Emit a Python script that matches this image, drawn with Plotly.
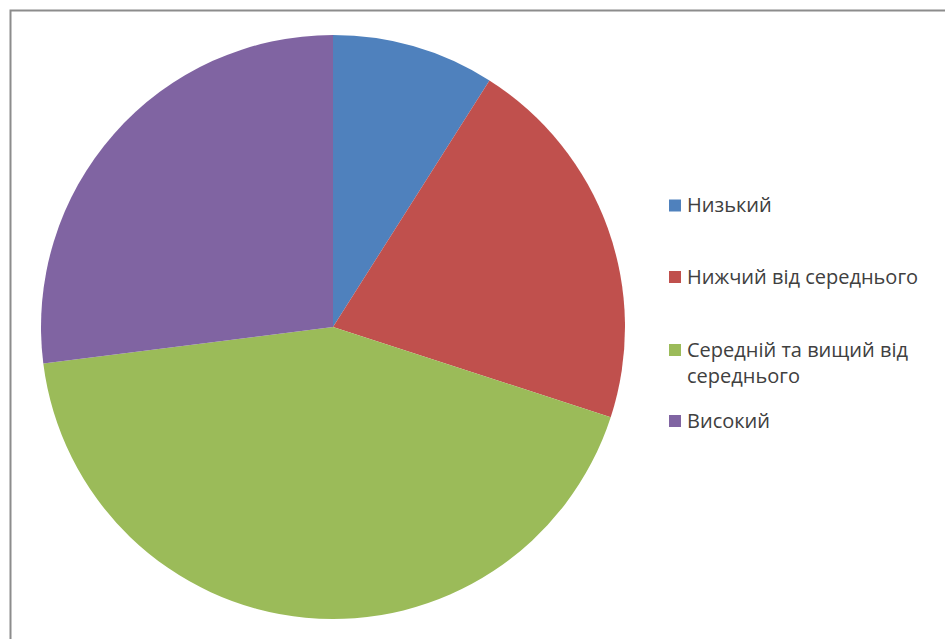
import plotly.graph_objects as go

# Shares of respondents by level
labels = ["Низький", "Нижчий від середнього", "Середній та вищий від середнього", "Високий"]
legend_text = ["Низький", "Нижчий від середнього", "Середній та вищий від<br>середнього", "Високий"]
values = [9, 21, 43, 27]
colors = ["#4F81BD", "#C0504D", "#9BBB59", "#8064A2"]

W, H = 945, 639

fig = go.Figure()
fig.add_trace(go.Pie(
    labels=labels,
    values=values,
    sort=False,
    direction="clockwise",
    rotation=0,
    marker=dict(colors=colors, line=dict(width=0)),
    textinfo="none",
    showlegend=False,
    domain=dict(x=[41 / W, 625 / W], y=[20 / H, 604 / H]),
))

# Chart-area frame (only top and left edges fall inside the page)
fig.add_shape(type="rect", xref="paper", yref="paper",
              x0=10.5 / W, x1=1.2, y0=-0.2, y1=1 - 10.5 / H,
              line=dict(color="#8C8C8C", width=2), fillcolor="rgba(0,0,0,0)")

# Legend drawn as swatches + labels (pixel rows of each swatch centre)
legend_y = [205.5, 277, 350, 421]
FS = 20
for txt, col, yp in zip(legend_text, colors, legend_y):
    fig.add_shape(type="rect", xref="paper", yref="paper",
                  x0=669 / W, x1=681 / W,
                  y0=1 - (yp + 6) / H, y1=1 - (yp - 6) / H,
                  line=dict(width=0), fillcolor=col)
    nlines = txt.count("<br>") + 1
    yc = yp - 1 + (nlines - 1) * FS * 1.3 / 2
    fig.add_annotation(xref="paper", yref="paper", x=685 / W, y=1 - yc / H,
                       xanchor="left", yanchor="middle", align="left",
                       text=txt, showarrow=False,
                       font=dict(family="Open Sans", size=FS, color="#404040"))

fig.update_layout(
    width=W, height=H,
    margin=dict(l=0, r=0, t=0, b=0),
    paper_bgcolor="white",
    plot_bgcolor="white",
)

fig.write_html("out.html")
